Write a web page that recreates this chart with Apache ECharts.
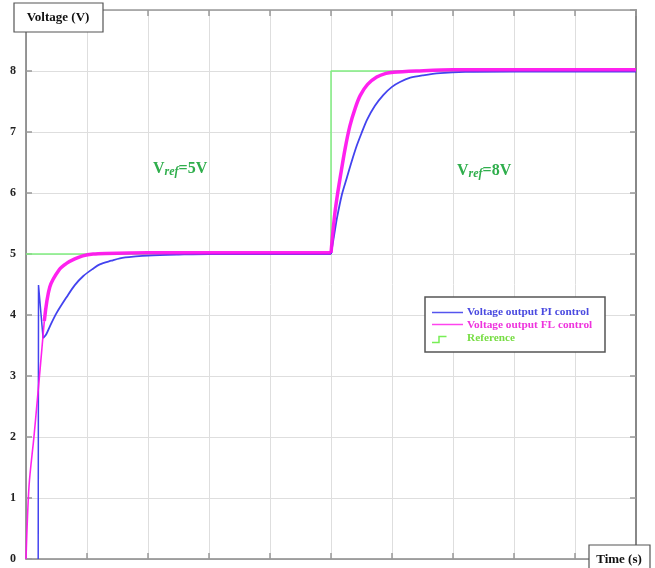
<!DOCTYPE html>
<html>
<head>
<meta charset="utf-8">
<script src="https://cdn.jsdelivr.net/npm/echarts@6/dist/echarts.min.js"></script>
<style>
  html, body { margin: 0; padding: 0; background: #fff; }
  #chart { width: 655px; height: 568px; }
</style>
</head>
<body>
<div id="chart"></div>
<script>
// Time points (s) and voltages (V) of each trace
const refTime = [0, 5, 5, 10];
const refVolt = [5, 5, 8, 8];

const piTime = [0.2, 0.205, 0.28, 0.33, 0.39, 0.5, 0.67, 0.8, 0.94, 1.1, 1.21, 1.4, 1.54, 1.8, 2.0, 2.5, 3.0, 5.0,
                5.05, 5.1, 5.18, 5.26, 5.34, 5.42, 5.5, 5.59, 5.72, 5.86, 6.0, 6.13, 6.3, 6.51, 6.79, 7.2, 8.0, 10.0];
const piVolt = [0, 4.49, 3.62, 3.68, 3.81, 4.03, 4.30, 4.49, 4.64, 4.76, 4.83, 4.89, 4.93, 4.96, 4.975, 4.99, 5.0, 5.0,
                5.3, 5.6, 5.98, 6.25, 6.52, 6.77, 6.98, 7.2, 7.43, 7.61, 7.74, 7.82, 7.89, 7.93, 7.965, 7.985, 7.99, 7.99];

const flTime = [0, 0.05, 0.13, 0.185, 0.23, 0.3, 0.39, 0.55, 0.67, 0.8, 0.93, 1.1, 1.3, 2.0, 5.0,
                5.03, 5.07, 5.11, 5.15, 5.23, 5.31, 5.4, 5.48, 5.6, 5.75, 5.9, 6.02, 6.4, 7.0, 10.0];
const flVolt = [0, 1.2, 2.0, 2.6, 3.1, 3.9, 4.46, 4.75, 4.85, 4.92, 4.97, 5.0, 5.01, 5.02, 5.02,
                5.35, 5.72, 6.0, 6.25, 6.72, 7.1, 7.4, 7.6, 7.78, 7.9, 7.96, 7.98, 8.0, 8.02, 8.02];

const stepTime = 5;          // time of the reference step
const yTicks = [0, 1, 2, 3, 4, 5, 6, 7, 8];

const pairs = (xs, ys) => xs.map((x, i) => [x, ys[i]]);
// points with t in [from, to]
const slice = (xs, ys, from, to) => pairs(xs, ys).filter(p => p[0] >= from && p[0] <= to);

const serif = '"Liberation Serif", "DejaVu Serif", serif';
const chart = echarts.init(document.getElementById('chart'));

const axisLineStyle = { color: '#888', width: 1.5 };
const tickStyle = { show: true, inside: true, length: 6, lineStyle: { color: '#999', width: 1.5 } };
const piColor = '#3535ee';
const flColor = '#ff10ee';

function trace(name, data, color, width, smooth, z) {
  return {
    name, type: 'line', showSymbol: false, symbol: 'none', smooth,
    data, lineStyle: { color, width, opacity: 0.93 }, z
  };
}

chart.setOption({
  animation: false,
  backgroundColor: '#fff',
  grid: { left: 26, right: 19, top: 10, bottom: 9, containLabel: false },
  xAxis: [
    {
      type: 'value', min: 0, max: 10, interval: 1, position: 'bottom',
      axisLine: { show: true, onZero: false, lineStyle: axisLineStyle },
      axisTick: tickStyle,
      axisLabel: { show: false },
      splitLine: { show: true, lineStyle: { color: '#dedede', width: 1 } }
    },
    {
      type: 'value', min: 0, max: 10, interval: 1, position: 'top',
      axisLine: { show: true, onZero: false, lineStyle: { color: '#999', width: 1.5 } },
      axisTick: tickStyle,
      axisLabel: { show: false },
      splitLine: { show: false }
    }
  ],
  yAxis: [
    {
      type: 'value', min: 0, max: 9, interval: 1, position: 'left',
      axisLine: { show: true, onZero: false, lineStyle: { color: '#777', width: 1.5 } },
      axisTick: tickStyle,
      axisLabel: {
        margin: 10,
        fontFamily: serif, fontWeight: 'bold', fontSize: 12, color: '#222',
        formatter: v => (yTicks.indexOf(v) >= 0 ? String(v) : '')
      },
      splitLine: { show: true, lineStyle: { color: '#dedede', width: 1 } }
    },
    {
      type: 'value', min: 0, max: 9, interval: 1, position: 'right',
      axisLine: { show: true, onZero: false, lineStyle: { color: '#888', width: 2 } },
      axisTick: tickStyle,
      axisLabel: { show: false },
      splitLine: { show: false }
    }
  ],
  series: [
    {
      name: 'Reference', type: 'line', showSymbol: false, symbol: 'none',
      data: pairs(refTime, refVolt),
      lineStyle: { color: '#80ee80', width: 1.5 }, z: 2
    },
    // PI: start-up spike, first plateau, response to the step
    trace('Voltage output PI control', slice(piTime, piVolt, 0, 0.28), piColor, 1.5, false, 3),
    trace('Voltage output PI control', slice(piTime, piVolt, 0.28, stepTime), piColor, 1.8, 0.3, 3),
    trace('Voltage output PI control', slice(piTime, piVolt, stepTime, 10), piColor, 1.8, 0.3, 3),
    // FL: thin start-up trace, then the ripple band
    trace('Voltage output FL control', slice(flTime, flVolt, 0, 0.3), flColor, 1.6, 0.3, 4),
    trace('Voltage output FL control', slice(flTime, flVolt, 0.3, stepTime), flColor, 3.5, 0.3, 4),
    trace('Voltage output FL control', slice(flTime, flVolt, stepTime, 10), flColor, 3.5, 0.3, 4)
  ],
  graphic: [
    // axis title boxes
    { type: 'rect', shape: { x: 14, y: 3, width: 89, height: 29 },
      style: { fill: '#fff', stroke: '#555', lineWidth: 1.2 }, z: 10 },
    { type: 'text', x: 58, y: 18, z: 11,
      style: { text: 'Voltage (V)', font: 'bold 13px ' + serif, fill: '#111',
               textAlign: 'center', textVerticalAlign: 'middle' } },
    { type: 'rect', shape: { x: 589, y: 545, width: 61, height: 30 },
      style: { fill: '#fff', stroke: '#555', lineWidth: 1.2 }, z: 10 },
    { type: 'text', x: 619, y: 560, z: 11,
      style: { text: 'Time (s)', font: 'bold 13px ' + serif, fill: '#111',
               textAlign: 'center', textVerticalAlign: 'middle' } },

    // in-plot annotations
    { type: 'text', x: 153, y: 169, z: 11,
      style: {
        text: '{v|V}{r|ref}{v|=5V}', textVerticalAlign: 'middle',
        rich: {
          v: { fontFamily: serif, fontWeight: 'bold', fontSize: 16, fill: '#2fae4c' },
          r: { fontFamily: serif, fontWeight: 'bold', fontStyle: 'italic', fontSize: 12, fill: '#2fae4c', padding: [5, 0, 0, 0] }
        }
      } },
    { type: 'text', x: 457, y: 171, z: 11,
      style: {
        text: '{v|V}{r|ref}{v|=8V}', textVerticalAlign: 'middle',
        rich: {
          v: { fontFamily: serif, fontWeight: 'bold', fontSize: 16, fill: '#2fae4c' },
          r: { fontFamily: serif, fontWeight: 'bold', fontStyle: 'italic', fontSize: 12, fill: '#2fae4c', padding: [5, 0, 0, 0] }
        }
      } },

    // legend box
    { type: 'rect', shape: { x: 425, y: 297, width: 180, height: 55 },
      style: { fill: '#fff', stroke: '#555', lineWidth: 1.5 }, z: 10 },
    { type: 'line', shape: { x1: 432, y1: 312.5, x2: 463, y2: 312.5 },
      style: { stroke: '#5555ee', lineWidth: 1.5 }, z: 11 },
    { type: 'line', shape: { x1: 432, y1: 324.5, x2: 463, y2: 324.5 },
      style: { stroke: '#ff44ee', lineWidth: 1.5 }, z: 11 },
    { type: 'polyline', shape: { points: [[432, 342.5], [439, 342.5], [439, 336.5], [446.5, 336.5]] },
      style: { stroke: '#77ee55', lineWidth: 1.5, fill: null }, z: 11 },
    { type: 'text', x: 467, y: 312.5, z: 11,
      style: { text: 'Voltage output PI control', font: 'bold 11.3px ' + serif, fill: '#4a4ae0',
               textVerticalAlign: 'middle' } },
    { type: 'text', x: 467, y: 325, z: 11,
      style: { text: 'Voltage output FL control', font: 'bold 11.3px ' + serif, fill: '#ee33dd',
               textVerticalAlign: 'middle' } },
    { type: 'text', x: 467, y: 338.5, z: 11,
      style: { text: 'Reference', font: 'bold 11.3px ' + serif, fill: '#77dd44',
               textVerticalAlign: 'middle' } }
  ]
});
</script>
</body>
</html>
